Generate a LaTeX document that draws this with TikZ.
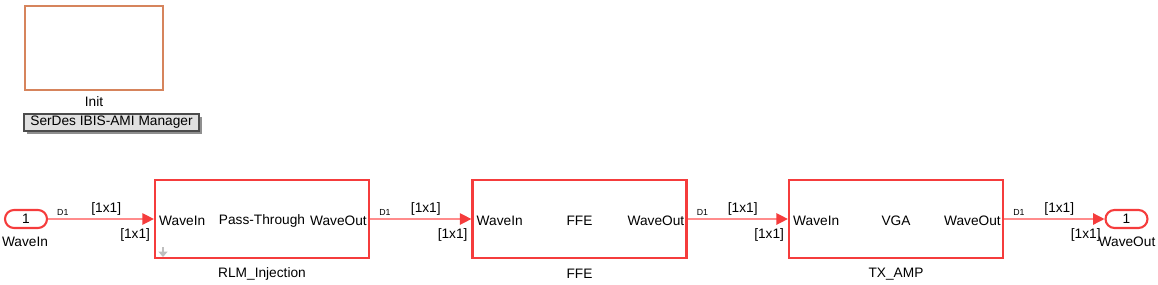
\documentclass[tikz,border=0pt]{standalone}
\usepackage{fontspec}
\setmainfont{Liberation Sans}
\usepackage{tikz}
\usetikzlibrary{arrows.meta,positioning,shadows}
\definecolor{blkred}{RGB}{245,60,60}
\definecolor{sigred}{RGB}{255,140,140}
\definecolor{initorg}{RGB}{214,132,92}
\tikzset{
  blk/.style={draw=blkred, line width=1.3pt, fill=white, minimum width=4.28cm, minimum height=1.56cm, inner sep=0pt},
  port/.style={draw=blkred, line width=1.2pt, rounded corners=0.18cm, minimum width=0.84cm, minimum height=0.36cm, inner sep=0pt, font=\fontsize{7.8}{9}\selectfont},
  sig/.style={-{Triangle[length=6.5pt,width=6.5pt,color=blkred]}, line width=0.8pt, sigred},
  lbl/.style={font=\fontsize{7.8}{9}\selectfont, inner sep=0pt, text=black},
  dtag/.style={font=\fontsize{5}{6}\selectfont, inner sep=0pt, text=black},
}
\begin{document}
\begin{tikzpicture}[x=0.02cm, y=-0.02cm]
\useasboundingbox (0,0) rectangle (1158,284);
% --- Init subsystem and manager label ---
\node[draw=initorg, line width=1.1pt, minimum width=2.76cm, minimum height=1.68cm] (init) at (94,48) {};
\node[lbl] (initname) at (94,102) {Init};
\node[draw=black!70, fill=black!12, line width=0.6pt, minimum width=3.5cm, minimum height=0.34cm, inner sep=0pt,
      font=\fontsize{7.8}{9}\selectfont, drop shadow={shadow xshift=1.5pt, shadow yshift=-1.5pt, fill=black!55, opacity=0.8}] (mgr) at (111.5,122.5) {SerDes IBIS-AMI Manager};
% --- Ports ---
\node[port] (win) at (26,219) {1};
\node[lbl] (winname) at (25,242) {WaveIn};
\node[port] (wout) at (1126.5,219) {1};
\node[lbl] (woutname) at (1127,242) {WaveOut};
% --- Blocks ---
\node[blk] (rlm) at (262,219) {};
\node[blk] (ffe) at (579.5,219) {};
\node[blk] (txamp) at (896,219) {};
\foreach \b/\t/\n in {rlm/Pass-Through/RLM\_Injection, ffe/FFE/FFE, txamp/VGA/TX\_AMP}{
  \node[lbl, anchor=west] (\b-in) at ([xshift=0.1cm, yshift=-0.04cm]\b.west) {WaveIn};
  \node[lbl, anchor=east] (\b-out) at ([xshift=-0.06cm, yshift=-0.04cm]\b.east) {WaveOut};
  \node[lbl] (\b-mid) at ([yshift=-0.04cm]\b.center) {\t};
  \node[lbl] (\b-name) at ([yshift=-0.3cm]\b.south) {\n};
}
\draw[black!25, line width=1.4pt, -{Triangle[length=3pt,width=5pt]}] (163,247) -- (163,257);
% --- Signals ---
\foreach \s/\d in {win/rlm, rlm/ffe, ffe/txamp, txamp/wout}{
  \draw[sig] (\s.east) -- (\d.west) node[lbl, pos=0.55, above=1.5pt] (\s-dim) {[1x1]};
  \node[dtag, anchor=south west] (\s-d1) at ([xshift=5pt, yshift=2pt]\s.east) {D1};
  \node[lbl, anchor=north east] (\d-dim) at ([xshift=-2pt, yshift=-5pt]\d.west) {[1x1]};
}
\end{tikzpicture}
\end{document}
